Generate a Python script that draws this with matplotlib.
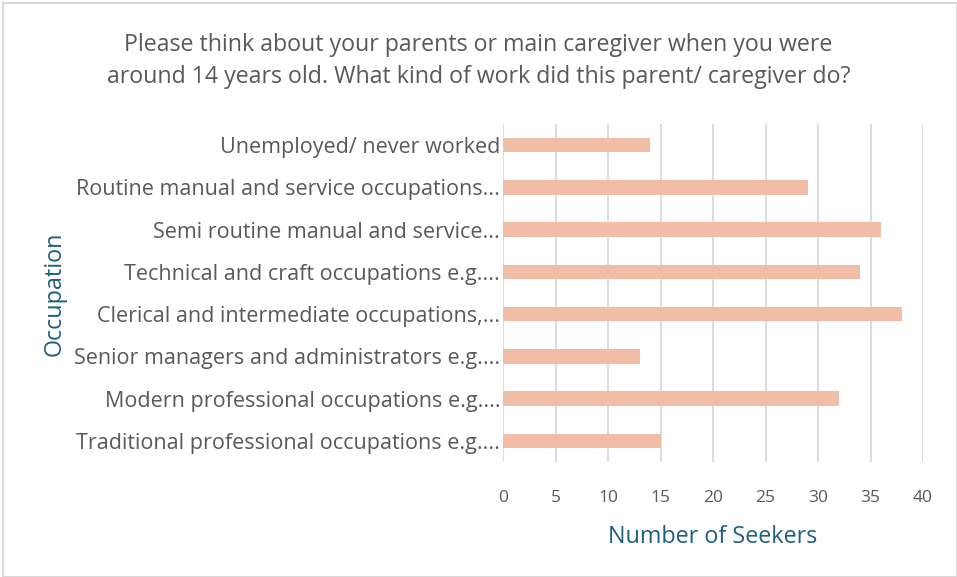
import matplotlib.pyplot as plt
import numpy as np

# Occupation categories, bottom to top as drawn
occupations = [
    "Traditional professional occupations e.g....",
    "Modern professional occupations e.g....",
    "Senior managers and administrators e.g....",
    "Clerical and intermediate occupations,...",
    "Technical and craft occupations e.g....",
    "Semi routine manual and service...",
    "Routine manual and service occupations...",
    "Unemployed/ never worked",
]
seekers = [15, 32, 13, 38, 34, 36, 29, 14]
x_ticks = [0, 5, 10, 15, 20, 25, 30, 35, 40]

text_grey = "#595959"
axis_blue = "#1f5f7d"
bar_colour = "#f0bea6"

plt.rcParams['font.family'] = ['Open Sans', 'DejaVu Sans']

fig = plt.figure(figsize=(9.57, 5.77), dpi=100)
ax = fig.add_axes([503/957, 1 - 462/577, 420/957, (462 - 124)/577])

ypos = np.arange(len(occupations))
ax.barh(ypos, seekers, height=0.34, color=bar_colour, zorder=3)

ax.set_xlim(0, 40)
ax.set_ylim(-0.5, len(occupations) - 0.5)
ax.set_xticks(x_ticks)
ax.set_xticklabels([str(t) for t in x_ticks], color=text_grey, fontsize=12.5)
ax.set_yticks(ypos)
ax.set_yticklabels(occupations, color=text_grey, fontsize=15.5)
ax.tick_params(axis='both', length=0)
ax.tick_params(axis='x', pad=20)
ax.tick_params(axis='y', pad=2)

ax.grid(axis='x', color="#d9d9d9", linewidth=1.3, zorder=0)
for s in ax.spines.values():
    s.set_visible(False)

ax.set_xlabel("Number of Seekers", color=axis_blue, fontsize=16.8, labelpad=14)
fig.text(55/957, 1 - 294/577, "Occupation", color=axis_blue, fontsize=16.8,
         rotation=90, ha='center', va='center')

fig.text(0.5, 1 - 45/577,
         "Please think about your parents or main caregiver when you were",
         color=text_grey, fontsize=16.7, ha='center', va='center')
fig.text(0.5, 1 - 77/577,
         "around 14 years old. What kind of work did this parent/ caregiver do?",
         color=text_grey, fontsize=16.7, ha='center', va='center')

# light frame around the chart
frame = plt.Rectangle((3/957, 0), 1 - 3/957, 1 - 3/577, transform=fig.transFigure,
                      fill=False, edgecolor="#d9d9d9", linewidth=1.5)
fig.add_artist(frame)

fig.savefig("out.png", dpi=100)
